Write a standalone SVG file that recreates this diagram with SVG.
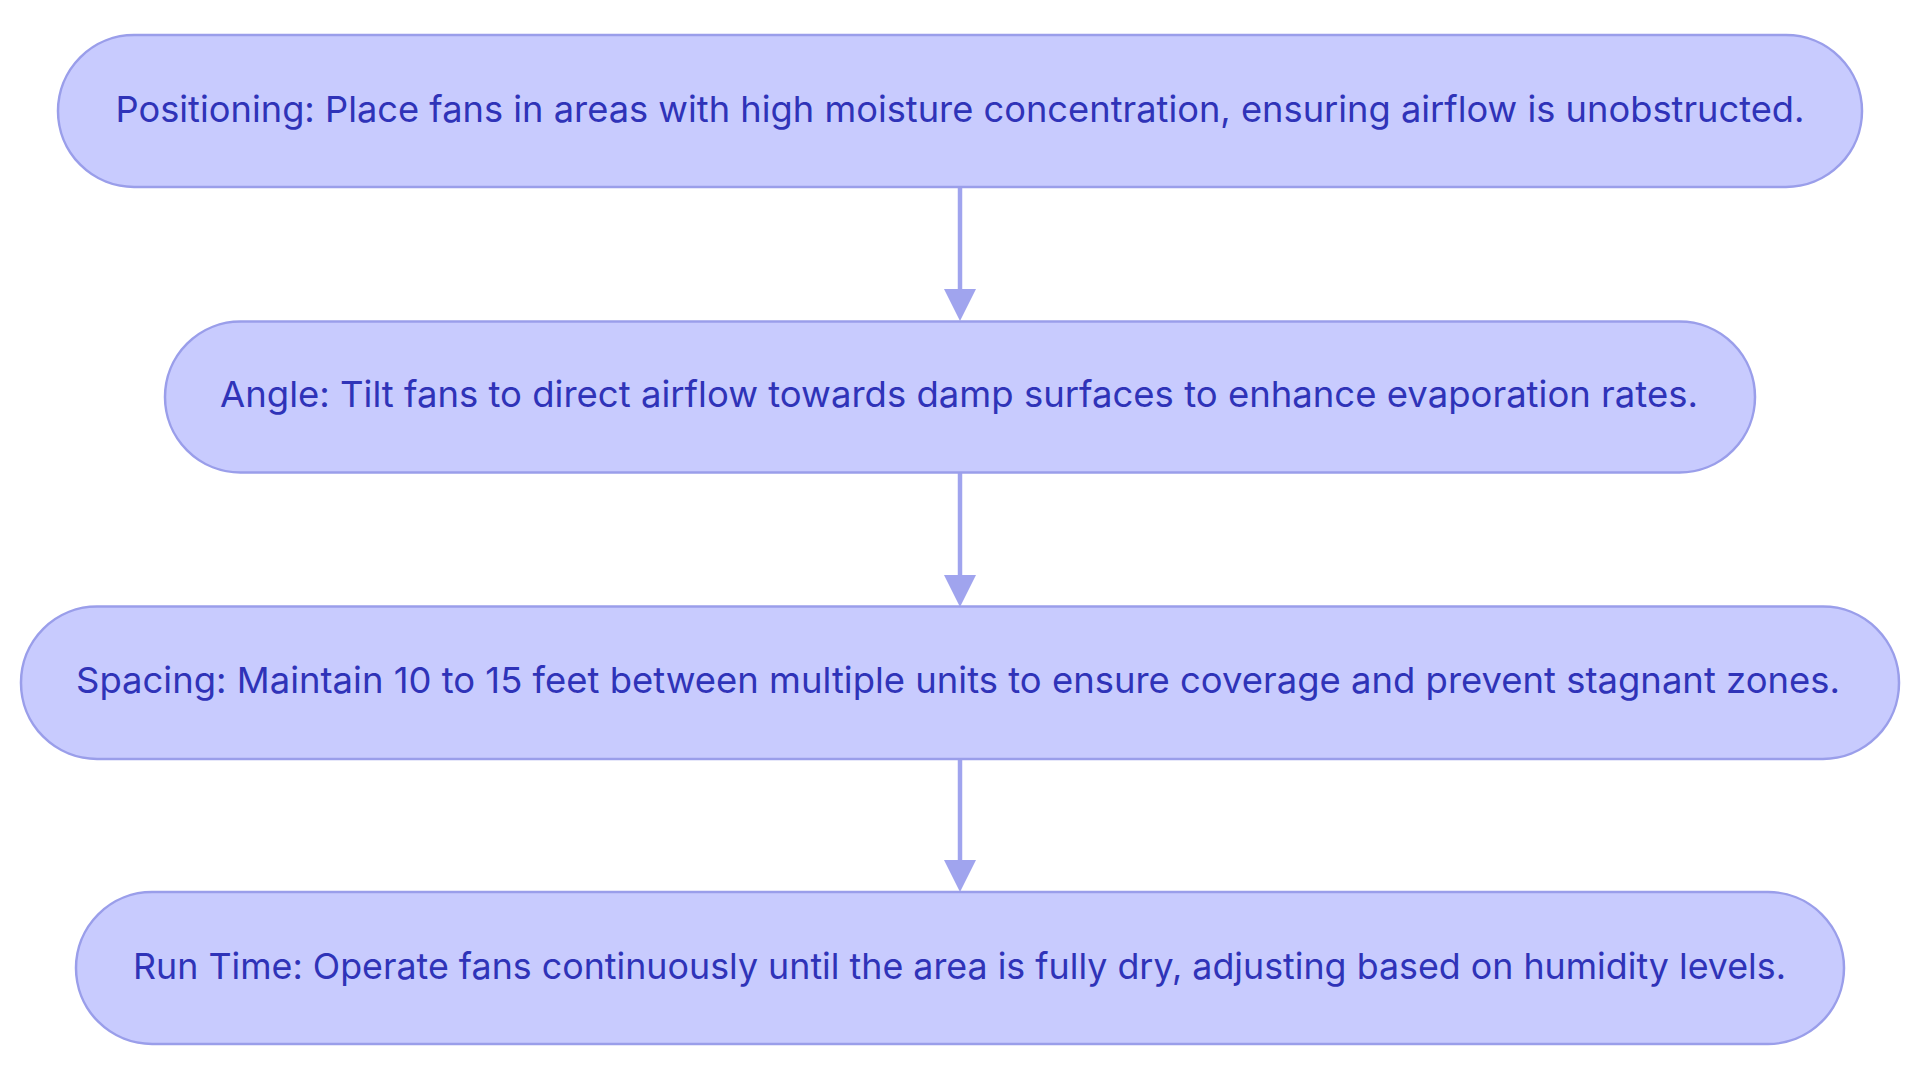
<svg xmlns="http://www.w3.org/2000/svg" width="1920" height="1083" viewBox="0 0 1920 1083">
<style>
.node rect{fill:#c8cbfe;stroke:#9a9eea;stroke-width:2.5}
.node text{font-family:Inter,"Noto Sans","Liberation Sans",sans-serif;font-size:36px;fill:#2f33b8;text-anchor:middle}
.edge line{stroke:#a0a4ee;stroke-width:4.5}
.edge polygon{fill:#a0a4ee}
</style>
<rect width="1920" height="1083" fill="#ffffff"/>
<g id="connectors" class="edge">
<line x1="960" y1="187" x2="960" y2="292"/>
<polygon points="944,289 976,289 960,321"/>
<line x1="960" y1="472.5" x2="960" y2="578"/>
<polygon points="944,575 976,575 960,607"/>
<line x1="960" y1="759" x2="960" y2="863"/>
<polygon points="944,860 976,860 960,892"/>
</g>
<g id="node1" class="node">
<rect x="58" y="35" width="1804" height="152" rx="76" ry="76"/>
<text x="960" y="121.7" textLength="1689" lengthAdjust="spacingAndGlyphs">Positioning: Place fans in areas with high moisture concentration, ensuring airflow is unobstructed.</text>
</g>
<g id="node2" class="node">
<rect x="165" y="321.5" width="1590" height="151" rx="75.5" ry="75.5"/>
<text x="959" y="407.3" textLength="1478" lengthAdjust="spacingAndGlyphs">Angle: Tilt fans to direct airflow towards damp surfaces to enhance evaporation rates.</text>
</g>
<g id="node3" class="node">
<rect x="21" y="606.5" width="1878" height="152.5" rx="76" ry="76"/>
<text x="958" y="693.3" textLength="1764" lengthAdjust="spacingAndGlyphs">Spacing: Maintain 10 to 15 feet between multiple units to ensure coverage and prevent stagnant zones.</text>
</g>
<g id="node4" class="node">
<rect x="76" y="892" width="1768" height="152" rx="76" ry="76"/>
<text x="959.5" y="978.5" textLength="1653" lengthAdjust="spacingAndGlyphs">Run Time: Operate fans continuously until the area is fully dry, adjusting based on humidity levels.</text>
</g>
</svg>
